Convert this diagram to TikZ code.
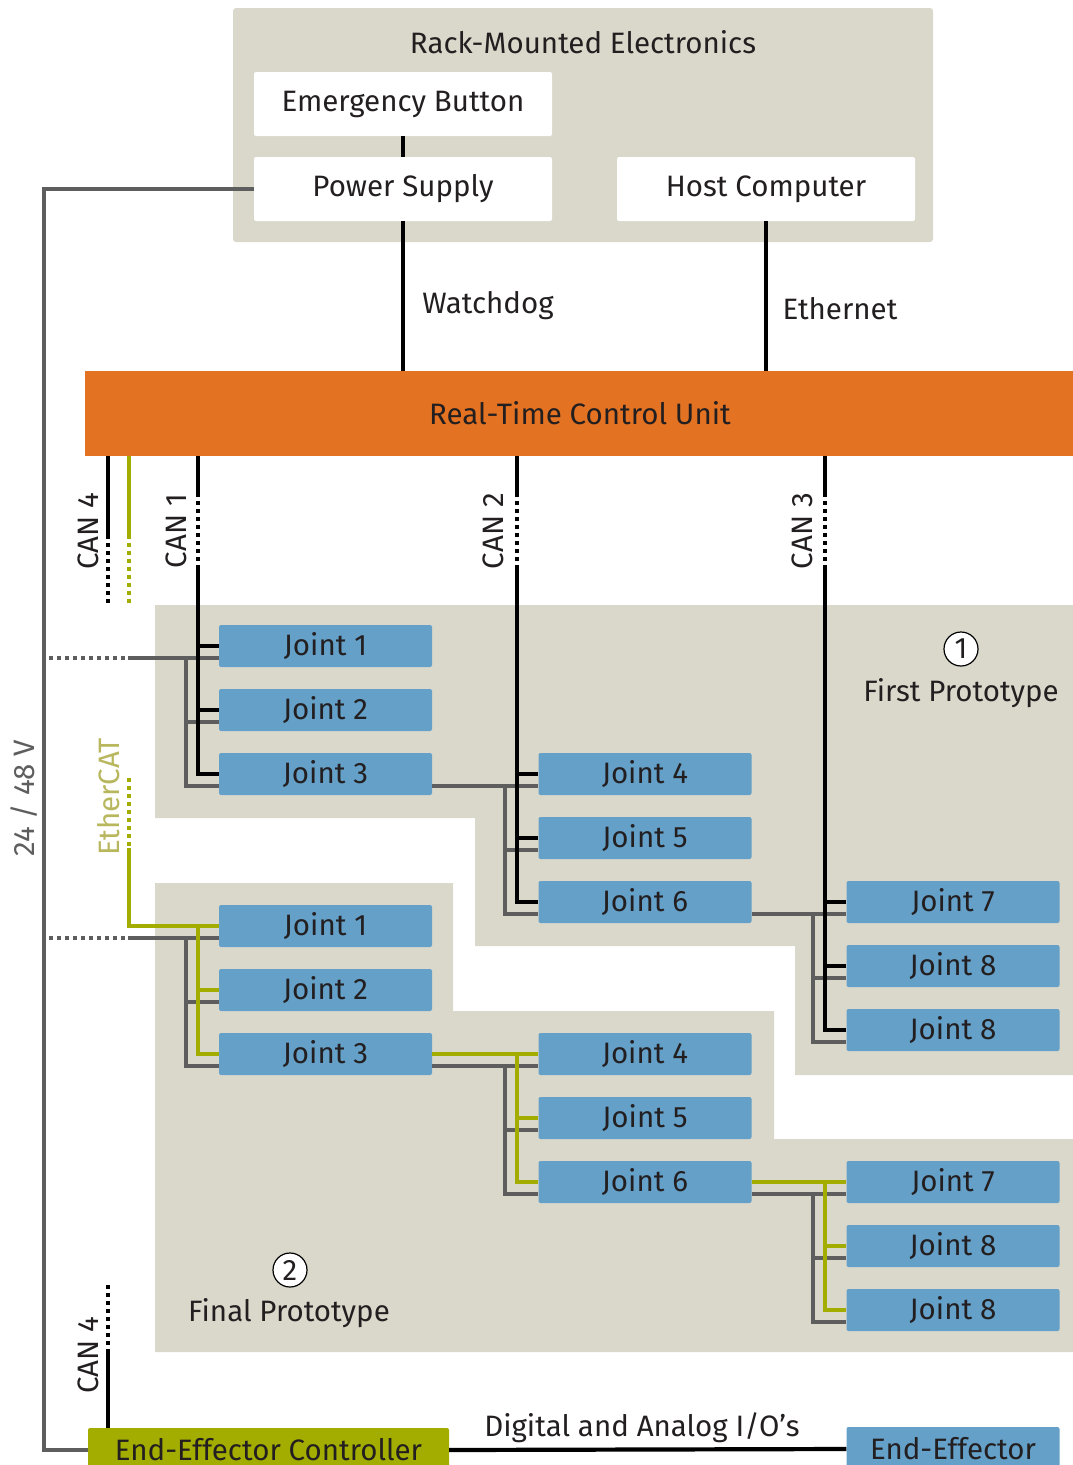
\documentclass[tikz,border=0pt]{standalone}
\usepackage{fontspec}
\setmainfont{Fira Sans}
\usepackage{tikz}
\usetikzlibrary{calc,positioning}
\definecolor{ctlgray}{HTML}{DAD8CB}
\definecolor{ctlblue}{HTML}{64A0C8}
\definecolor{ctlorange}{HTML}{E37222}
\definecolor{ctlolive}{HTML}{A2AD00}
\definecolor{ctlwire}{HTML}{5E5E5E}
\definecolor{ctlink}{HTML}{231F20}
\definecolor{ctlethertext}{HTML}{B9B75E}
\tikzset{
  every picture/.append style={line join=miter},
  ctl text/.style={font=\fontsize{29.5}{33}\selectfont,text=ctlink},
  ctl panel/.style={fill=ctlgray},
  ctl rack/.style={ctl text,fill=white,rounded corners=2pt,minimum width=298pt,minimum height=64pt,inner sep=0pt},
  ctl joint/.style={ctl text,fill=ctlblue,rounded corners=2pt,minimum width=213pt,minimum height=42pt,inner sep=0pt},
  ctl unit/.style={ctl text,fill=ctlorange,minimum width=990pt,minimum height=85pt,inner sep=0pt},
  ctl eec/.style={ctl text,fill=ctlolive,rounded corners=2pt,minimum width=361pt,minimum height=44pt,inner sep=0pt},
  ctl signal/.style={black,line width=3.5pt},
  ctl can/.style={black,line width=4.2pt},
  ctl can dots/.style={ctl can,dash pattern=on 4pt off 4pt},
  ctl ecat/.style={ctlolive,line width=4pt},
  ctl ecat dots/.style={ctl ecat,dash pattern=on 4pt off 4pt},
  ctl drive/.style={ctlwire,line width=4pt},
  ctl drive dots/.style={ctl drive,dash pattern=on 4pt off 4pt},
  ctl power/.style={ctlwire,line width=3.5pt},
  ctl number/.style={ctl text,circle,draw=black,line width=1.2pt,fill=white,minimum size=34pt,inner sep=0pt},
  ctl vert/.style={ctl text,rotate=90}
}

\begin{document}
\begin{tikzpicture}[x=1pt,y=-1pt]
  \useasboundingbox (0,0) rectangle (1072,1465);
  \fill[ctl panel,rounded corners=3pt] (233,8) rectangle (933,242);
  \fill[ctl panel] (155,605) -- (1080,605) -- (1080,1075) -- (795,1075) -- (795,946)
    -- (475,946) -- (475,818) -- (155,818) -- cycle;
  \fill[ctl panel] (155,883) -- (453,883) -- (453,1011) -- (774,1011) -- (774,1139)
    -- (1080,1139) -- (1080,1352) -- (155,1352) -- cycle;

  \node[ctl text] (rack) at (583,42) {Rack-Mounted Electronics};
  \node[ctl rack] (estop) at (403,104) {Emergency Button};
  \node[ctl rack] (psu) at (403,189) {Power Supply};
  \node[ctl rack] (host) at (766,189) {Host Computer};
  \node[ctl unit] (rtcu) at (580,413.5) {Real-Time Control Unit};
  \foreach \n/\x/\y/\t in {a1/325.5/646/1,a2/325.5/710/2,a3/325.5/774/3,
      a4/645/774/4,a5/645/838/5,a6/645/902/6,a7/953/902/7,a8/953/966/8,a9/953/1030/8,
      b1/325.5/926/1,b2/325.5/990/2,b3/325.5/1054/3,
      b4/645/1054/4,b5/645/1118/5,b6/645/1182/6,b7/953/1182/7,b8/953/1246/8,b9/953/1310/8}
    \node[ctl joint] (\n) at (\x,\y) {Joint \t};
  \node[ctl eec] (eec) at (268.5,1450) {End-Effector Controller};
  \node[ctl joint,minimum height=44pt] (ee) at (953,1449) {End-Effector};

  \node[ctl number] (num1) at (961,649) {1};
  \node[ctl text] (proto1) at (961,693) {First Prototype};
  \node[ctl number] (num2) at (290,1270) {2};
  \node[ctl text] (proto2) at (289,1313) {Final Prototype};

  \draw[ctl signal] (estop) -- (psu);
  \draw[ctl signal] (psu.south) -- (psu.south |- rtcu.north);
  \draw[ctl signal] (host.south) -- (host.south |- rtcu.north);
  \node[ctl text] (wdog) at (488,306) {Watchdog};
  \node[ctl text] (eth) at (840,309) {Ethernet};

  \coordinate (pwr) at (44,0);
  \draw[ctl power] (psu.west) -| (pwr |- eec.west) -- (eec.west);
  \node[ctl vert,text=ctlwire] (volt) at (24,798) {24 / 48 V};

  \foreach \s/\t in {a3/a4,a6/a7,b3/b4,b6/b7}
    \draw[ctl drive] ($(\s.east)+(0,12)$) -- ($(\t.west)+(0,12)$);
  \foreach \p/\q/\r in {a1/a2/a3,a4/a5/a6,a7/a8/a9,b1/b2/b3,b4/b5/b6,b7/b8/b9} {
    \draw[ctl drive] ($(\p.west)+(-33,12)$) |- ($(\r.west)+(0,12)$);
    \draw[ctl drive] ($(\q.west)+(-33,12)$) -- ($(\q.west)+(0,12)$);
  }
  \foreach \p in {a1,b1} {
    \draw[ctl drive dots] ($(\p.west)+(-170,12)$) -- ($(\p.west)+(-91,12)$);
    \draw[ctl drive] ($(\p.west)+(-91,12)$) -- ($(\p.west)+(0,12)$);
  }

  \foreach \p/\q/\r in {a1/a2/a3,a4/a5/a6,a7/a8/a9} {
    \coordinate (bus) at ($(\p.west)+(-21,0)$);
    \draw[ctl can] (rtcu.south -| bus) -- ++(0,37);
    \draw[ctl can dots] ($(rtcu.south -| bus)+(0,37)$) -- ++(0,75);
    \draw[ctl can] ($(rtcu.south -| bus)+(0,112)$) |- (\r.west);
    \draw[ctl can] (bus) -- (\p.west);
    \draw[ctl can] (bus |- \q.west) -- (\q.west);
  }
  \node[ctl vert] (can1) at (176,531) {CAN 1};
  \node[ctl vert] (can2) at (493,531) {CAN 2};
  \node[ctl vert] (can3) at (802,531) {CAN 3};

  \coordinate (can4) at (108,0);
  \coordinate (ecat) at (129,0);
  \draw[ctl can] (rtcu.south -| can4) -- ++(0,79);
  \draw[ctl can dots] ($(rtcu.south -| can4)+(0,79)$) -- ++(0,68);
  \draw[ctl ecat] (rtcu.south -| ecat) -- ++(0,79);
  \draw[ctl ecat dots] ($(rtcu.south -| ecat)+(0,79)$) -- ++(0,68);
  \node[ctl vert] (can4a) at (88,531) {CAN 4};

  \coordinate (ecat2) at (129,778);
  \draw[ctl ecat dots] (ecat2) -- ++(0,70);
  \draw[ctl ecat] ($(ecat2)+(0,70)$) |- (b1.west);
  \node[ctl vert,text=ctlethertext] (ecatl) at (109,797) {EtherCAT};
  \foreach \s/\t in {b3/b4,b6/b7}
    \draw[ctl ecat] (\s.east) -- (\t.west);
  \foreach \p/\q/\r in {b1/b2/b3,b4/b5/b6,b7/b8/b9} {
    \draw[ctl ecat] ($(\p.west)+(-21,0)$) |- (\r.west);
    \draw[ctl ecat] ($(\q.west)+(-21,0)$) -- (\q.west);
  }

  \draw[ctl can] (eec.north -| can4) -- ++(0,-75);
  \draw[ctl can dots] ($(eec.north -| can4)+(0,-75)$) -- ++(0,-70);
  \node[ctl vert] (can4b) at (88,1355) {CAN 4};

  \draw[ctl can] (eec.east) -- (ee.west);
  \node[ctl text] (io) at (642,1428) {Digital and Analog I/O’s};
\end{tikzpicture}
\end{document}
